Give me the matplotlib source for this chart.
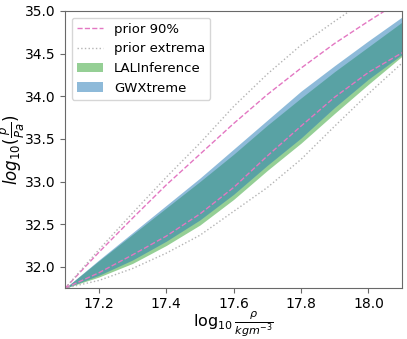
import numpy as np
import matplotlib
matplotlib.use("Agg")
from matplotlib import pyplot as plt

# log10 density grid
log_rho = [17.1, 17.2, 17.3, 17.4, 17.5, 17.6, 17.7, 17.8, 17.9, 18.0, 18.1]

# prior bounds (log10 pressure)
prior90_upper = [31.75, 32.17, 32.57, 32.96, 33.32, 33.68, 34.02, 34.33, 34.62, 34.88, 35.13]
prior90_lower = [31.75, 31.93, 32.14, 32.36, 32.62, 32.93, 33.30, 33.65, 33.99, 34.28, 34.51]
priorext_upper = [31.75, 32.20, 32.63, 33.05, 33.45, 33.88, 34.26, 34.60, 34.88, 35.15, 35.40]
priorext_lower = [31.75, 31.84, 31.98, 32.16, 32.37, 32.65, 32.93, 33.26, 33.65, 34.03, 34.39]

# posterior bands
lal_upper = [31.75, 32.07, 32.38, 32.69, 33.00, 33.32, 33.66, 33.98, 34.29, 34.58, 34.87]
lal_lower = [31.75, 31.88, 32.04, 32.25, 32.49, 32.79, 33.13, 33.45, 33.80, 34.14, 34.47]
gwx_upper = [31.75, 32.08, 32.40, 32.72, 33.04, 33.38, 33.72, 34.06, 34.36, 34.65, 34.93]
gwx_lower = [31.75, 31.90, 32.08, 32.30, 32.55, 32.85, 33.19, 33.51, 33.87, 34.20, 34.49]

xticks = [17.2, 17.4, 17.6, 17.8, 18.0]
yticks = [32.0, 32.5, 33.0, 33.5, 34.0, 34.5, 35.0]

fig = plt.figure(figsize=(4.07, 3.39), dpi=100)
ax = fig.add_axes([0.16, 0.150, 0.828, 0.8176])

ax.fill_between(log_rho, lal_lower, lal_upper, color="C2", alpha=0.5, lw=0, label="LALInference")
ax.fill_between(log_rho, gwx_lower, gwx_upper, color="C0", alpha=0.5, lw=0, label="GWXtreme")

ax.plot(log_rho, prior90_upper, color="C6", ls="--", lw=1, label="prior 90%")
ax.plot(log_rho, prior90_lower, color="C6", ls="--", lw=1)
ax.plot(log_rho, priorext_upper, color="#b4b4b4", ls=":", lw=1, label="prior extrema")
ax.plot(log_rho, priorext_lower, color="#b4b4b4", ls=":", lw=1)

ax.set_xlim(17.1, 18.1)
ax.set_ylim(31.75, 35.0)
ax.set_xticks(xticks)
ax.set_yticks(yticks)
ax.tick_params(labelsize=10, color="dimgray")
ax.tick_params(axis="x", pad=3)
for s in ax.spines.values():
    s.set_color("dimgray")

ax.set_xlabel(r"$\log_{10}\frac{\rho}{kgm^{-3}}$", fontsize=11.5, labelpad=-1)
ax.set_ylabel(r"$log_{10}(\frac{p}{Pa})$", fontsize=12, labelpad=-1.5)

h, l = ax.get_legend_handles_labels()
order = [2, 3, 0, 1]
ax.legend([h[i] for i in order], [l[i] for i in order], loc="upper left", fontsize=9.5)

fig.savefig("out.png", dpi=100)
